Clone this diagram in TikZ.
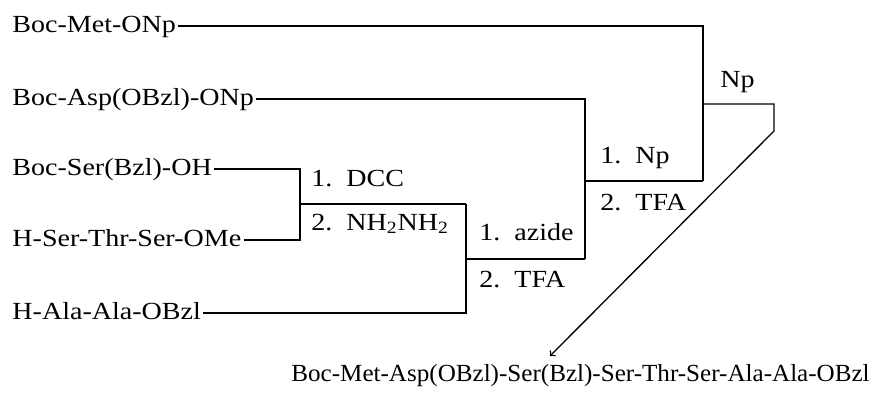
\documentclass[tikz,border=0pt]{standalone}
\usepackage{fontspec}
\setmainfont[FakeStretch=1.14]{Liberation Serif}
\newfontfamily\prodfont[FakeStretch=1.02]{Liberation Serif}
\begin{document}
\begin{tikzpicture}[line width=0.75pt, font=\fontsize{14}{16}\selectfont,
  chem/.style={anchor=west, inner sep=1pt, text height=1.8ex, text depth=0.3ex}]
  \useasboundingbox (0,0) rectangle (17.42,7.88);
  % starting materials
  \node[chem] (met) at (0.20,7.36) {Boc-Met-ONp};
  \node[chem] (asp) at (0.20,5.90) {Boc-Asp(OBzl)-ONp};
  \node[chem] (ser) at (0.20,4.50) {Boc-Ser(Bzl)-OH};
  \node[chem] (sts) at (0.20,3.08) {H-Ser-Thr-Ser-OMe};
  \node[chem] (ala) at (0.20,1.62) {H-Ala-Ala-OBzl};
  \node[chem, font=\fontsize{14}{16}\prodfont] (prod) at (5.78,0.38) {Boc-Met-Asp(OBzl)-Ser(Bzl)-Ser-Thr-Ser-Ala-Ala-OBzl};
  % junctions
  \coordinate (c) at (6.00,3.80);
  \coordinate (d) at (9.32,2.70);
  \coordinate (e) at (11.70,4.26);
  \coordinate (f) at (14.06,5.80);
  \coordinate (g) at (15.48,5.80);
  \coordinate (h) at (15.48,5.26);
  \coordinate (tip) at (11.00,0.76);
  % step 1
  \draw (ser.east) -| (c) |- (sts.east);
  \draw (c) -- (c -| d);
  \node[chem] (dcc) at (6.18,4.28) {1.~~DCC};
  \node[chem] (hyd) at (6.18,3.40) {2.~~NH\textsubscript{2}NH\textsubscript{2}};
  % step 2
  \draw (ala.east) -| (c -| d);
  \draw (d) -- (d -| e);
  \node[chem] (azi) at (9.54,3.20) {1.~~azide};
  \node[chem] (tfa1) at (9.54,2.26) {2.~~TFA};
  % step 3
  \draw (asp.east) -| (d -| e);
  \draw (e) -- (e -| f);
  \node[chem] (np1) at (11.96,4.74) {1.~~Np};
  \node[chem] (tfa2) at (11.96,3.80) {2.~~TFA};
  % step 4
  \draw (met.east) -| (e -| f);
  \draw[->] (f) -- (g) -- (h) -- (tip);
  \node[chem] (np2) at (14.36,6.26) {Np};
\end{tikzpicture}
\end{document}
